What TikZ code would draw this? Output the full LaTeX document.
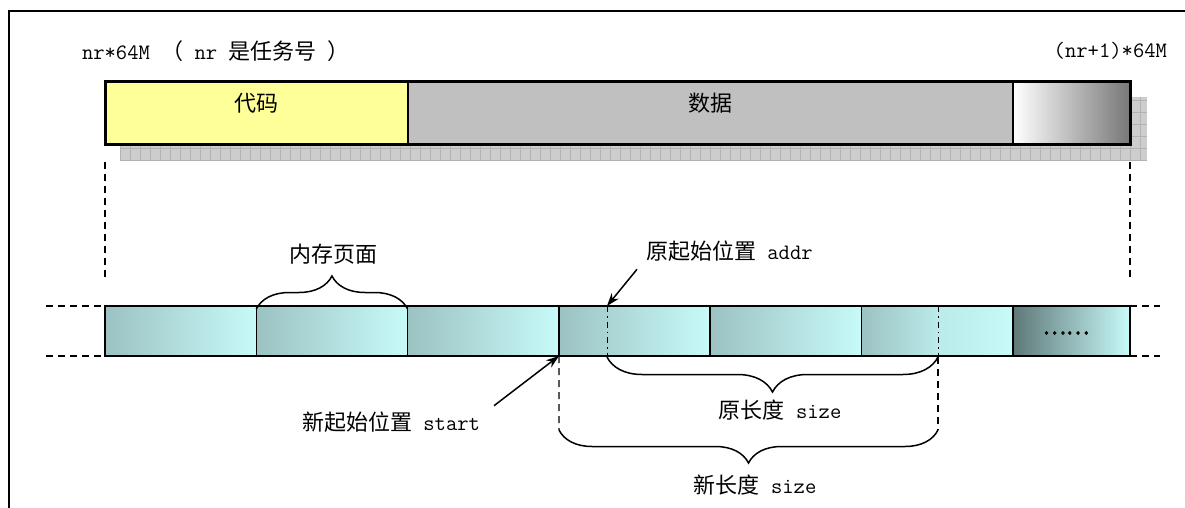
\documentclass[tikz,border=0pt]{standalone}
\usepackage{fontspec}
\newfontfamily\zhfont{Noto Sans CJK SC}
\newfontfamily\zhheavy[FakeBold=3]{Noto Sans CJK SC}
\usetikzlibrary{arrows.meta,positioning,decorations.pathreplacing}
\definecolor{codeyellow}{HTML}{FFFF99}
\definecolor{datagray}{HTML}{C0C0C0}
\definecolor{shadowgray}{HTML}{CDCDCD}
\definecolor{gridgray}{HTML}{B2B2B2}
\definecolor{freemid}{HTML}{E6E6E6}
\definecolor{freedark}{HTML}{777777}
\definecolor{pagedark}{HTML}{9CC2C2}
\definecolor{pagemid}{HTML}{BAEAEA}
\definecolor{pagelight}{HTML}{C8FAFA}
\definecolor{enddark}{HTML}{5F7878}
\definecolor{endmid}{HTML}{A0CCCC}
\newcommand{\zh}[1]{{\zhfont #1}}

\begin{document}
\begin{tikzpicture}[
  x=1pt, y=-1pt,
  lbl/.style={font=\fontsize{22}{26}\selectfont\ttfamily, inner sep=0pt, outer sep=0pt},
  seg/.style={draw, line width=1.2pt, minimum height=62pt, inner sep=0pt,
              outer sep=0pt, anchor=north west},
  cell/.style={draw, line width=1.6pt, minimum width=151.3pt, minimum height=50pt,
               inner sep=0pt, outer sep=0pt, anchor=north west,
               left color=pagedark, right color=pagelight},
  guide/.style={dash pattern=on 7pt off 5pt, line width=1.2pt},
  cut/.style={dash pattern=on 6pt off 4pt on 1.5pt off 4pt, line width=1pt},
  curlyup/.style={decorate, decoration={brace, amplitude=#1}, line width=1.5pt},
  curlydown/.style={decorate, decoration={brace, mirror, amplitude=#1}, line width=1.5pt},
  arr/.style={-{Stealth[length=13pt, width=9pt]}, line width=1.5pt}
]
\useasboundingbox (0,0) rectangle (1185,508);
\draw[line width=2pt] (9,508) -- (9,11) -- (1185,11);

% address range of the task
\node[lbl, anchor=west] (lo) at (82,51) {nr*64M \zh{（} nr \zh{是任务号} \zh{）}};
\node[lbl, anchor=east] (hi) at (1167,51) {(nr+1)*64M};

% shadow under the linear space
\fill[shadowgray] (120,97) rectangle (1147,160);
\foreach \x in {120,130,...,1140}
  \draw[gridgray, line width=0.5pt] (\x,97) -- (\x,160);
\foreach \y in {100,112,...,160}
  \draw[gridgray, line width=0.5pt] (120,\y) -- (1147,\y);

\node[seg, fill=codeyellow, minimum width=303pt] (code) at (105,82) {};
\node[seg, fill=datagray, minimum width=605pt] (data) at (code.north east) {};
\node[seg, minimum width=117pt, left color=white, middle color=freemid,
      right color=freedark] (free) at (data.north east) {};
\draw[line width=3pt] (code.north west) rectangle (free.south east);
\node[lbl] (tcode) at (256,103) {\zh{代码}};
\node[lbl] (tdata) at (710,103) {\zh{数据}};

\draw[guide] (105,162) -- (105,280);
\draw[guide] (1130,162) -- (1130,280);

% memory pages
\foreach \i in {1,...,5}
  \node[cell] (c\i) at ({105+151.3*(\i-1)},306) {};
\node[cell, middle color=pagemid] (c6) at (c5.north east) {};
\node[cell, minimum width=117pt, left color=enddark, middle color=endmid,
      right color=pagelight] (c7) at (c6.north east) {};
\node[lbl] (more) at (1066,333) {\zhheavy ……};

\draw[guide] (46,306) -- (c1.north west);
\draw[guide] (46,356) -- (c1.south west);
\draw[guide] (c7.north east) -- (1160,306);
\draw[guide] (c7.south east) -- (1160,356);

\coordinate (addr) at (607,306);
\coordinate (oldA) at (607,357);
\coordinate (oldB) at (938,357);
\coordinate (newA) at (559,430);
\coordinate (newB) at (938,430);
\draw[cut] (addr) -- (oldA);
\draw[cut] (938,306) -- (oldB);

\draw[curlyup=33pt] ([yshift=-3pt]c2.north west) -- ([yshift=-3pt]c2.north east);
\node[lbl] (lpage) at (333,254) {\zh{内存页面}};

\node[lbl, anchor=west] (laddr) at (646,251) {\zh{原起始位置} addr};
\draw[arr] ([shift={(-9,8)}]laddr.south west) -- (addr);

\node[lbl] (lstart) at (391,422) {\zh{新起始位置} start};
\draw[arr] ([shift={(14,-6)}]lstart.north east) -- (c4.south west);

\draw[curlydown=35pt] (oldA) -- (oldB);
\node[lbl] (lold) at (780,410) {\zh{原长度} size};

\draw[guide] (c4.south west) -- (newA);
\draw[guide] (oldB) -- (newB);
\draw[curlydown=33pt] (newA) -- (newB);
\node[lbl] (lnew) at (755,485) {\zh{新长度} size};
\end{tikzpicture}
\end{document}
